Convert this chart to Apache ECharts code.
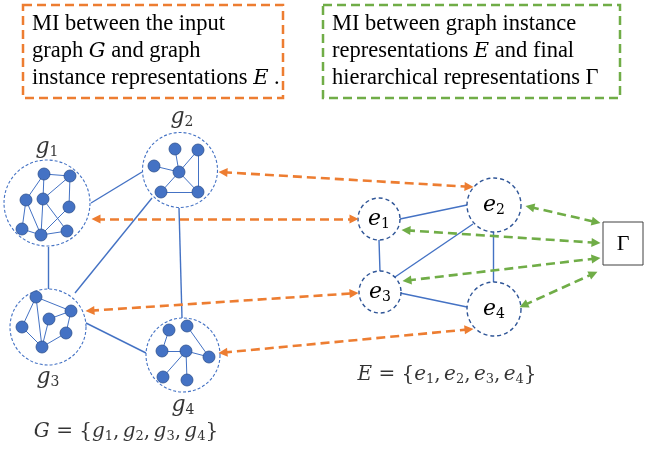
<!DOCTYPE html>
<html><head><meta charset="utf-8">
<script src="https://cdn.jsdelivr.net/npm/echarts@6/dist/echarts.min.js"></script>
<style>html,body{margin:0;padding:0;background:#fff}#c{width:647px;height:453px}</style>
</head><body><div id="c"></div>
<script>
// ---------- diagram data (diagram units = pixels of the 647x453 canvas) ----------
const graphNames = ['g1', 'g2', 'g3', 'g4'];
const graphCenters = [[47, 203], [180, 170], [48, 327], [183, 355]];
const instNames = ['e1', 'e2', 'e3', 'e4'];
const instCenters = [[379, 219], [494, 205], [380, 292], [494, 309]];

const g1Nodes = [[44, 174], [70, 176], [26, 200], [43, 199], [69, 207], [22, 229], [41, 235], [67, 231]];
const g1Edges = [[0, 1], [0, 2], [0, 3], [1, 3], [1, 4], [2, 5], [2, 6], [3, 6], [3, 7], [4, 6], [5, 6], [6, 7]];
const g2Nodes = [[175, 149], [198, 150], [154, 166], [179, 172], [161, 192], [198, 192]];
const g2Edges = [[0, 3], [1, 3], [1, 5], [2, 3], [3, 4], [3, 5], [4, 5]];
const g3Nodes = [[36, 297], [71, 311], [49, 319], [22, 327], [66, 333], [42, 347]];
const g3Edges = [[0, 1], [0, 3], [0, 5], [2, 1], [2, 5], [1, 4], [4, 5], [3, 5]];
const g4Nodes = [[169, 330], [187, 326], [162, 351], [186, 351], [209, 357], [163, 377], [187, 380]];
const g4Edges = [[0, 2], [2, 3], [1, 4], [3, 4], [3, 5], [3, 6]];

const graphLinks = [[[91, 203], [142, 172]], [[48, 247], [48, 289]], [[152, 198], [75, 293]], [[179, 208], [182, 318]], [[86, 323], [146, 353]]];
const instLinks = [[[400, 219], [467, 205]], [[379, 240], [380, 272]], [[473, 224], [395, 277]], [[493, 232], [493, 283]], [[400, 293], [467, 307]]];

const miGraphInst = [[[219, 172], [473, 187]], [[92, 219], [358, 219]], [[86, 311], [358, 293]], [[219, 353], [473, 329]]];
const miInstGamma = [[[526, 206], [600, 223]], [[402, 230], [600, 243]], [[403, 281], [600, 258]], [[520, 307], [597, 272]]];

const gammaBox = [[603, 222, 643, 265]];
const orangeBox = [[23, 5, 283, 98]];
const greenBox = [[323, 5, 620, 98]];
const orangeLines = ['MI between the input', 'graph {i|G} and graph', 'instance representations {i|E} .'];
const greenLines = ['MI between graph instance', 'representations {i|E} and final', 'hierarchical representations Γ'];

const graphLabelPos = [[47, 147], [182, 117], [48, 377], [183, 405]];
const setLabels = [{ name: 'G', pos: [126, 432], items: ['1', '2', '3', '4'], sym: 'g' }, { name: 'E', pos: [447, 375], items: ['1', '2', '3', '4'], sym: 'e' }];

// ---------- styling ----------
const BLUE = '#4472C4', NAVY = '#2F5597', ORANGE = '#ED7D31', GREEN = '#70AD47';
const graphRadius = [43, 37.5, 38, 37];
const instRadius = [21, 27, 21, 27];
const MATH_FONT = 'DejaVu Serif';
const TEXT_FONT = 'Liberation Serif';
const mathRich = {
  m: { fontFamily: MATH_FONT, fontStyle: 'italic', fontSize: 22, color: '#000' },
  s: { fontFamily: MATH_FONT, fontSize: 14, color: '#000', padding: [11, 0, 0, 0] },
  p: { fontFamily: MATH_FONT, fontSize: 22, color: '#000' }
};
const setRich = {
  m: { fontFamily: MATH_FONT, fontStyle: 'italic', fontSize: 20, color: '#000' },
  s: { fontFamily: MATH_FONT, fontSize: 13, color: '#000', padding: [10, 0, 0, 0] },
  p: { fontFamily: MATH_FONT, fontSize: 20, color: '#000' },
  c: { fontFamily: MATH_FONT, fontSize: 20, color: '#000', padding: [0, -3, 0, 0] }
};

function sub(sym, idx) { return '{m|' + sym + '}{s|' + idx + '}'; }

function trimArrow(seg, d) {
  const [a, b] = seg;
  const dx = b[0] - a[0], dy = b[1] - a[1];
  const L = Math.hypot(dx, dy);
  const ux = dx / L, uy = dy / L;
  return { coords: [[a[0] + ux * d, a[1] + uy * d], [b[0] - ux * d, b[1] - uy * d]] };
}

const innerNodes = [].concat(g1Nodes, g2Nodes, g3Nodes, g4Nodes);
const innerEdges = [];
[[g1Nodes, g1Edges], [g2Nodes, g2Edges], [g3Nodes, g3Edges], [g4Nodes, g4Edges]].forEach(([n, e]) => {
  e.forEach(([i, j]) => innerEdges.push({ coords: [n[i], n[j]] }));
});

function wrapPlain(t) {
  // put plain segments into the 't' rich style so that the serif text font is used
  return t.split(/(\{i\|[^}]*\})/).filter(s => s.length).map(s => s.startsWith('{i|') ? s : '{t|' + s + '}').join('');
}

function boxSeries(boxData, color, lines) {
  return {
    type: 'custom', coordinateSystem: 'cartesian2d', z: 10,
    data: boxData,
    renderItem: function (params, api) {
      const p0 = api.coord([api.value(0), api.value(1)]);
      const p1 = api.coord([api.value(2), api.value(3)]);
      const children = [{
        type: 'rect',
        shape: { x: p0[0], y: p0[1], width: p1[0] - p0[0], height: p1[1] - p0[1] },
        style: { fill: 'none', stroke: color, lineWidth: 2.5, lineDash: [9, 5] }
      }];
      if (lines) {
        lines.forEach((t, k) => {
          children.push({
            type: 'text',
            style: {
              text: wrapPlain(t), x: p0[0] + 9, y: p0[1] + 19.5 + k * 27,
              fill: '#000', fontFamily: TEXT_FONT, fontSize: 22.5, verticalAlign: 'middle', align: 'left',
              rich: {
                t: { fontFamily: TEXT_FONT, fontSize: 22.5, fill: '#000' },
                i: { fontFamily: MATH_FONT, fontStyle: 'italic', fontSize: 21, fill: '#000' }
              }
            }
          });
        });
      }
      return { type: 'group', children: children };
    }
  };
}

const chart = echarts.init(document.getElementById('c'), null, { renderer: 'canvas' });
chart.setOption({
  animation: false,
  backgroundColor: '#fff',
  grid: { left: 0, right: 0, top: 0, bottom: 0 },
  xAxis: { type: 'value', min: 0, max: 647, show: false },
  yAxis: { type: 'value', min: 0, max: 453, inverse: true, show: false },
  series: [
    { type: 'lines', coordinateSystem: 'cartesian2d', z: 1, silent: true,
      data: graphLinks.concat(instLinks).map(c => ({ coords: c })),
      lineStyle: { color: BLUE, width: 1.4, opacity: 1 } },
    { type: 'scatter', z: 2, silent: true, data: graphCenters,
      symbol: 'circle', symbolSize: (v, p) => graphRadius[p.dataIndex] * 2,
      itemStyle: { color: '#fff', borderColor: BLUE, borderWidth: 1.1, borderType: [3, 2], opacity: 1 } },
    { type: 'scatter', z: 2, silent: true,
      data: instCenters.map((c, i) => ({ value: c, name: instNames[i] })),
      symbol: 'circle', symbolSize: (v, p) => instRadius[p.dataIndex] * 2,
      itemStyle: { color: '#fff', borderColor: NAVY, borderWidth: 1.4, borderType: [4, 3], opacity: 1 },
      label: { show: true, position: 'inside', formatter: p => sub('e', p.name.slice(1)), rich: mathRich } },
    { type: 'lines', coordinateSystem: 'cartesian2d', z: 3, silent: true, data: innerEdges,
      lineStyle: { color: BLUE, width: 1, opacity: 1 } },
    { type: 'scatter', z: 4, silent: true, data: innerNodes, symbol: 'circle', symbolSize: 12,
      itemStyle: { color: BLUE, borderColor: '#2F528F', borderWidth: 0.8, opacity: 1 } },
    { type: 'lines', coordinateSystem: 'cartesian2d', z: 5, silent: true,
      data: miGraphInst.map(s => trimArrow(s, 4)),
      symbol: ['triangle', 'triangle'], symbolSize: 9,
      lineStyle: { color: ORANGE, width: 2.6, type: [9, 5], opacity: 1 } },
    { type: 'lines', coordinateSystem: 'cartesian2d', z: 5, silent: true,
      data: miInstGamma.map(s => trimArrow(s, 4)),
      symbol: ['triangle', 'triangle'], symbolSize: 9,
      lineStyle: { color: GREEN, width: 2.6, type: [9, 5], opacity: 1 } },
    { type: 'scatter', z: 6, silent: true, symbolSize: 0,
      data: graphLabelPos.map((c, i) => ({ value: c, name: graphNames[i] })),
      label: { show: true, position: 'inside', formatter: p => sub('g', p.name.slice(1)), rich: mathRich } },
    { type: 'scatter', z: 6, silent: true, symbolSize: 0,
      data: setLabels.map(s => ({ value: s.pos, name: s.name })),
      label: { show: true, position: 'inside', fontFamily: MATH_FONT, fontSize: 20, color: '#000',
        formatter: p => {
          const s = setLabels[p.dataIndex];
          return '{m|' + s.name + '}{p| = \u007B}' + s.items.map(k => sub(s.sym, k)).join('{c|,}{p| }') + '{p|\u007D}';
        }, rich: setRich } },
    {
      type: 'custom', coordinateSystem: 'cartesian2d', z: 10, data: gammaBox,
      renderItem: function (params, api) {
        const p0 = api.coord([api.value(0), api.value(1)]);
        const p1 = api.coord([api.value(2), api.value(3)]);
        return { type: 'group', children: [
          { type: 'rect', shape: { x: p0[0], y: p0[1], width: p1[0] - p0[0], height: p1[1] - p0[1] },
            style: { fill: '#fff', stroke: '#404040', lineWidth: 1 } },
          { type: 'text', style: { text: 'Γ', x: (p0[0] + p1[0]) / 2, y: (p0[1] + p1[1]) / 2 + 1,
            align: 'center', verticalAlign: 'middle', fill: '#000', fontFamily: TEXT_FONT, fontSize: 22 } }
        ] };
      }
    },
    boxSeries(orangeBox, ORANGE, orangeLines),
    boxSeries(greenBox, GREEN, greenLines)
  ]
});
</script>
</body></html>
